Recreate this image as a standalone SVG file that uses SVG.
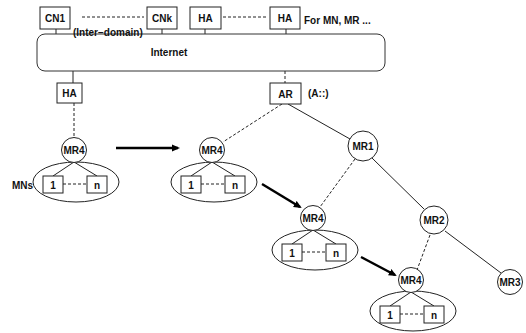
<svg xmlns="http://www.w3.org/2000/svg" width="526" height="333" viewBox="0 0 526 333">
<style>
text{font-family:"Liberation Sans",Arial,sans-serif;font-weight:bold;font-size:10px;fill:#111;}
.c{text-anchor:middle;}
.box{fill:#fff;stroke:#222;stroke-width:1;}
.node{fill:#fff;stroke:#222;stroke-width:1;}
.ell{fill:none;stroke:#222;stroke-width:1;}
.solid{stroke:#222;stroke-width:1;fill:none;}
.dash{stroke:#222;stroke-width:1;stroke-dasharray:3,2;fill:none;}
.move{stroke:#000;stroke-width:2.5;fill:none;marker-end:url(#ah);}
</style>
<defs>
<marker id="ah" markerWidth="8" markerHeight="8" refX="6" refY="4" orient="auto" markerUnits="userSpaceOnUse">
<path d="M0,0.5 L8,4 L0,7.5 Z" fill="#000"/>
</marker>
</defs>
<g id="connectors">
<line class="dash" x1="82" y1="17" x2="144" y2="17"/>
<line class="dash" x1="223" y1="17" x2="268" y2="17"/>
<line class="solid" x1="56" y1="29" x2="56" y2="34"/>
<line class="solid" x1="162" y1="29" x2="162" y2="34"/>
<line class="solid" x1="205" y1="29" x2="205" y2="34"/>
<line class="solid" x1="286" y1="29" x2="286" y2="34"/>
<line class="solid" x1="73" y1="71" x2="73" y2="83"/>
<line class="dash" x1="285" y1="71" x2="285" y2="83"/>
<line class="dash" x1="74" y1="103" x2="74" y2="137"/>
<line class="dash" x1="282" y1="104" x2="223" y2="142"/>
<line class="solid" x1="288" y1="104" x2="350" y2="139"/>
<line class="dash" x1="355" y1="159" x2="320" y2="207"/>
<line class="solid" x1="372" y1="158" x2="424" y2="209"/>
<line class="dash" x1="430" y1="235" x2="417" y2="270"/>
<line class="solid" x1="445" y1="231" x2="501" y2="273"/>
<line class="move" x1="116" y1="148" x2="178" y2="148"/>
<line class="move" x1="262" y1="184" x2="300" y2="207"/>
<line class="move" x1="361" y1="257" x2="395" y2="275"/>
</g>
<g id="cn1"><rect class="box" x="40" y="7" width="30" height="22"/><text class="c" x="55" y="22">CN1</text></g>
<g id="cnk"><rect class="box" x="147" y="7" width="30" height="22"/><text class="c" x="162" y="22">CNk</text></g>
<g id="ha1"><rect class="box" x="190" y="7" width="31" height="22"/><text class="c" x="205.5" y="22">HA</text></g>
<g id="ha2"><rect class="box" x="270" y="7" width="30" height="22"/><text class="c" x="285" y="22">HA</text></g>
<text x="304" y="24">For MN, MR ...</text>
<g id="internet"><rect x="37" y="34" width="348" height="37" rx="8" ry="8" fill="#fff" stroke="#333" stroke-width="1"/><text class="c" x="169" y="56">Internet</text></g>
<text x="73" y="36">(Inter−domain)</text>
<g id="ha-home"><rect class="box" x="57" y="83" width="25" height="20"/><text class="c" x="69.5" y="97">HA</text></g>
<g id="ar"><rect class="box" x="270" y="83" width="31" height="21"/><text class="c" x="285.5" y="97.5">AR</text></g>
<text x="308" y="97">(A::)</text>
<g id="mr1"><circle class="node" cx="363" cy="146" r="15"/><text class="c" x="363" y="150">MR1</text></g>
<g id="mr2"><circle class="node" cx="434" cy="220" r="14"/><text class="c" x="434" y="224">MR2</text></g>
<g id="mr3"><circle class="node" cx="510" cy="282" r="12.5"/><text class="c" x="510" y="286">MR3</text></g>
<g id="mr4-a" transform="translate(74,150)">
<ellipse class="ell" cx="2" cy="32" rx="43" ry="20"/>
<line class="solid" x1="0" y1="12" x2="-21" y2="26"/><line class="solid" x1="0" y1="12" x2="23" y2="26"/>
<line class="dash" x1="-11" y1="34" x2="13" y2="34"/>
<rect class="box" x="-31" y="26" width="20" height="17"/><text class="c" x="-21" y="39">1</text>
<rect class="box" x="13" y="26" width="20" height="17"/><text class="c" x="23" y="39">n</text>
<circle class="node" cx="0" cy="0" r="12.5"/><text class="c" x="0" y="4">MR4</text>
</g>
<text x="33" y="189" text-anchor="end">MNs</text>
<g id="mr4-b" transform="translate(212,150)">
<ellipse class="ell" cx="2" cy="32" rx="43" ry="20"/>
<line class="solid" x1="0" y1="12" x2="-21" y2="26"/><line class="solid" x1="0" y1="12" x2="23" y2="26"/>
<line class="dash" x1="-11" y1="34" x2="13" y2="34"/>
<rect class="box" x="-31" y="26" width="20" height="17"/><text class="c" x="-21" y="39">1</text>
<rect class="box" x="13" y="26" width="20" height="17"/><text class="c" x="23" y="39">n</text>
<circle class="node" cx="0" cy="0" r="12.5"/><text class="c" x="0" y="4">MR4</text>
</g>
<g id="mr4-c" transform="translate(313,218)">
<ellipse class="ell" cx="2" cy="32" rx="43" ry="20"/>
<line class="solid" x1="0" y1="12" x2="-21" y2="26"/><line class="solid" x1="0" y1="12" x2="23" y2="26"/>
<line class="dash" x1="-11" y1="34" x2="13" y2="34"/>
<rect class="box" x="-31" y="26" width="20" height="17"/><text class="c" x="-21" y="39">1</text>
<rect class="box" x="13" y="26" width="20" height="17"/><text class="c" x="23" y="39">n</text>
<circle class="node" cx="0" cy="0" r="12.5"/><text class="c" x="0" y="4">MR4</text>
</g>
<g id="mr4-d" transform="translate(411,280)">
<ellipse class="ell" cx="2" cy="31" rx="43" ry="20"/>
<line class="solid" x1="0" y1="12" x2="-21" y2="26"/><line class="solid" x1="0" y1="12" x2="23" y2="26"/>
<line class="dash" x1="-11" y1="34" x2="13" y2="34"/>
<rect class="box" x="-31" y="26" width="20" height="17"/><text class="c" x="-21" y="39">1</text>
<rect class="box" x="13" y="26" width="20" height="17"/><text class="c" x="23" y="39">n</text>
<circle class="node" cx="0" cy="0" r="12.5"/><text class="c" x="0" y="4">MR4</text>
</g>
</svg>
